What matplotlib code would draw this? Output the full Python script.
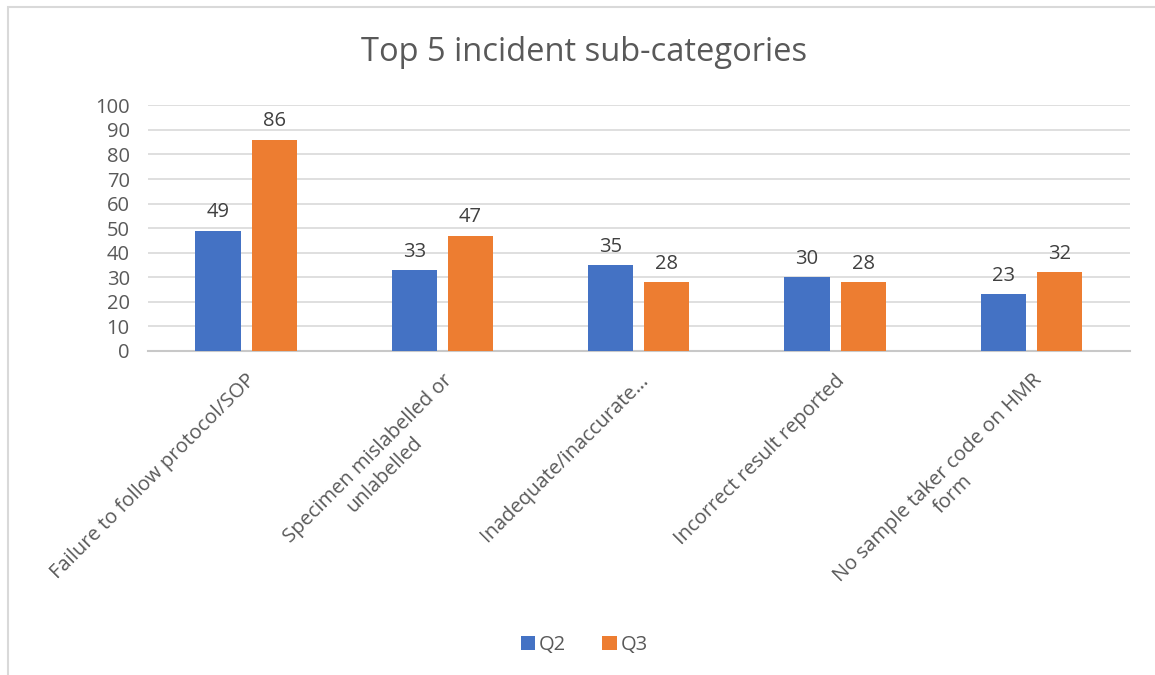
import matplotlib.pyplot as plt
import numpy as np
from matplotlib.patches import Rectangle

categories = [
    "Failure to follow protocol/SOP",
    "Specimen mislabelled or\nunlabelled",
    "Inadequate/inaccurate…",
    "Incorrect result reported",
    "No sample taker code on HMR\nform",
]
q2 = [49, 33, 35, 30, 23]
q3 = [86, 47, 28, 28, 32]

blue = '#4472C4'
orange = '#ED7D31'
grey = '#595959'
gridCol = '#D9D9D9'

plt.rcParams['font.family'] = ['Open Sans', 'DejaVu Sans']

fig = plt.figure(figsize=(11.55, 6.75), dpi=100)
ax = fig.add_axes([0.128, 0.48, 0.85, 0.364])

# chart border
fig.patches.append(Rectangle((8 / 1155, -0.01), 1.1, 1 - 7 / 675 + 0.01,
                             transform=fig.transFigure, fill=False,
                             edgecolor=gridCol, linewidth=1.5))

x = np.arange(len(categories))
w = 0.23
off = 0.143
b1 = ax.bar(x - off, q2, w, color=blue, label='Q2', zorder=3)
b2 = ax.bar(x + off, q3, w, color=orange, label='Q3', zorder=3)

for bars in (b1, b2):
    for rect in bars:
        h = rect.get_height()
        ax.annotate(f"{h:.0f}", (rect.get_x() + rect.get_width() / 2, h),
                    xytext=(0, 6), textcoords='offset points',
                    ha='center', va='bottom', fontsize=14.5, color='#404040')

ax.set_xlim(-0.5, len(categories) - 0.5)
ax.set_ylim(0, 100)
ax.set_yticks(np.arange(0, 101, 10))
ax.yaxis.grid(True, color=gridCol, linewidth=1.2, zorder=0)
ax.tick_params(axis='both', length=0, labelsize=14.5, labelcolor=grey)
ax.tick_params(axis='y', pad=13)
for s in ['top', 'right', 'left']:
    ax.spines[s].set_visible(False)
ax.spines['bottom'].set_color('#C8C8C8')
ax.spines['bottom'].set_linewidth(1.5)

ax.set_xticks(x)
ax.set_xticklabels(categories, rotation=45, ha='right', va='top',
                   rotation_mode='anchor', multialignment='center')
ax.tick_params(axis='x', pad=14)

fig.text(0.506, 0.922, "Top 5 incident sub-categories", ha='center', va='center',
         fontsize=23.5, color=grey)

fig.legend(handles=[b1, b2], labels=['Q2', 'Q3'], loc='center',
           bbox_to_anchor=(0.506, 0.044), ncol=2, frameon=False, fontsize=14.5,
           handlelength=0.7, handleheight=0.7, handletextpad=0.2,
           columnspacing=1.8, labelcolor=grey)

fig.savefig('out.png', dpi=100)
